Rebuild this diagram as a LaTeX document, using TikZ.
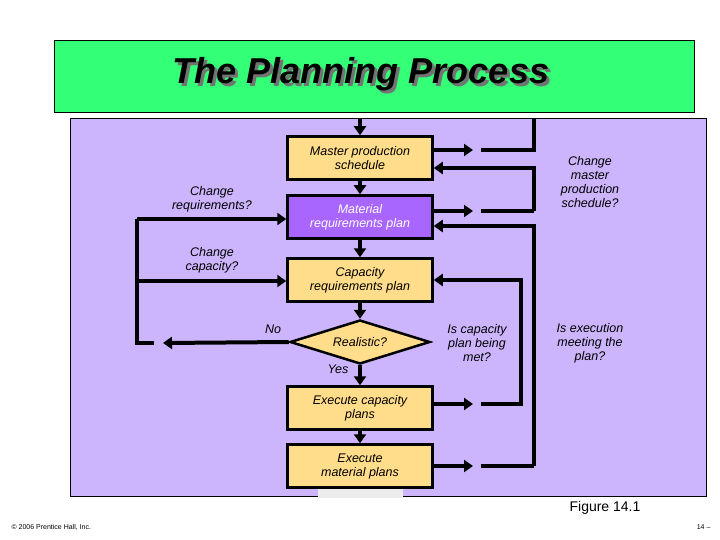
\documentclass[tikz,border=0pt]{standalone}
\usepackage{fontspec}
\setmainfont{Liberation Sans}
\usetikzlibrary{arrows.meta,shapes.geometric}
\definecolor{panel}{HTML}{CCB5FC}
\definecolor{ttl}{HTML}{33FF77}
\definecolor{boxy}{HTML}{FFDD8A}
\definecolor{mrp}{HTML}{A866FF}
\tikzset{
 box/.style={draw=black,line width=2.5pt,fill=boxy,minimum width=145pt,minimum height=43pt,inner sep=1pt,align=center,font=\itshape\fontsize{12.5}{14}\selectfont,text=black},
 lbl/.style={align=center,font=\itshape\fontsize{12.5}{14}\selectfont},
 flow/.style={line width=4pt,-{Triangle[length=9pt,width=12pt]}},
 ln/.style={line width=4pt}
}
\begin{document}
\begin{tikzpicture}[x=1pt,y=-1pt]
\useasboundingbox (0,0) rectangle (720,540);
\fill[white] (0,0) rectangle (720,540);
\node[draw=black,line width=1pt,fill=ttl,minimum width=640pt,minimum height=72pt,anchor=north west] (title) at (54,40) {};
\node[font=\bfseries\itshape\fontsize{36}{40}\selectfont,text=black!55] at (364,77) {The Planning Process};
\node[font=\bfseries\itshape\fontsize{36}{40}\selectfont] (tt) at (361,74) {The Planning Process};
\node[draw=black,line width=1pt,fill=panel,minimum width=636pt,minimum height=378pt,anchor=north west] (panel) at (70,118) {};
\fill[gray!15] (318,487) rectangle (403,498);
\node[box] (mps) at (360,158) {Master production\\schedule};
\node[box,fill=mrp,text=white] (mrp) at (360,217) {Material\\requirements plan};
\node[box] (crp) at (360,280) {Capacity\\requirements plan};
\node[draw=black,line width=2.5pt,fill=boxy,shape=diamond,shape aspect=3.2,inner sep=1pt,minimum width=140pt,minimum height=44pt,font=\itshape\fontsize{12.5}{14}\selectfont] (real) at (360,342) {Realistic?};
\node[box] (ecp) at (360,408) {Execute capacity\\plans};
\node[box] (emp) at (360,466) {Execute\\material plans};
% labels
\node[lbl] (l1) at (212,199) {Change\\requirements?};
\node[lbl] (l2) at (212,260) {Change\\capacity?};
\node[lbl] (no) at (273,329) {No};
\node[lbl] (yes) at (338,369) {Yes};
\node[lbl] (l3) at (477,343) {Is capacity\\plan being\\met?};
\node[lbl] (l4) at (590,343) {Is execution\\meeting the\\plan?};
\node[lbl] (l5) at (590,182) {Change\\master\\production\\schedule?};
\node[font=\fontsize{14}{16}\selectfont] (fig) at (605,508) {Figure 14.1};
\node[font=\fontsize{7}{8}\selectfont,anchor=west] (cp) at (8,527) {© 2006 Prentice Hall, Inc.};
\node[font=\fontsize{7}{8}\selectfont,anchor=east] (pg) at (714,527) {14 –};
% coordinates
\coordinate (top) at (360,118);
\coordinate (r1a) at (481,150); \coordinate (r1b) at (534,150); \coordinate (r1c) at (534,118);
\coordinate (r2a) at (534,168); \coordinate (r2b) at (534,211); \coordinate (r2c) at (481,211);
\coordinate (r3a) at (534,226); \coordinate (r3b) at (534,466); \coordinate (r3c) at (481,466);
\coordinate (r4a) at (521,280); \coordinate (r4b) at (521,404); \coordinate (r4c) at (481,404);
\coordinate (la) at (154,343); \coordinate (lb) at (137,343); \coordinate (lc) at (137,219); \coordinate (ld) at (137,281);
% flow
\draw[flow] (top) -- (mps.north);
\draw[flow] (mps) -- (mrp);
\draw[flow] (mrp) -- (crp);
\draw[flow] (crp) -- (real.north);
\draw[flow] (real.south) -- (ecp);
\draw[flow] (ecp) -- (emp);
% right side
\draw[flow] (mps.east |- r1a) -- (473,150);
\draw[ln] (r1a) -- (r1b) -- (r1c);
\draw[flow] (r2b) -- (r2a) -- (mps.east |- r2a);
\draw[flow] (mrp.east |- r2c) -- (473,211);
\draw[ln] (r2c) -- (r2b);
\draw[flow] (r3b) -- (r3a) -- (mrp.east |- r3a);
\draw[flow] (emp.east |- r3c) -- (473,466);
\draw[ln] (r3c) -- (r3b);
\draw[flow] (ecp.east |- r4c) -- (473,404);
\draw[flow] (r4c) -- (r4b) -- (r4a) -- (crp.east |- r4a);
% left side
\draw[flow] (real.west) -- (163,343);
\draw[ln] (la) -- (lb) -- (lc);
\draw[flow] (lc) -- (mrp.west |- lc);
\draw[flow] (ld) -- (crp.west |- ld);
\end{tikzpicture}
\end{document}
